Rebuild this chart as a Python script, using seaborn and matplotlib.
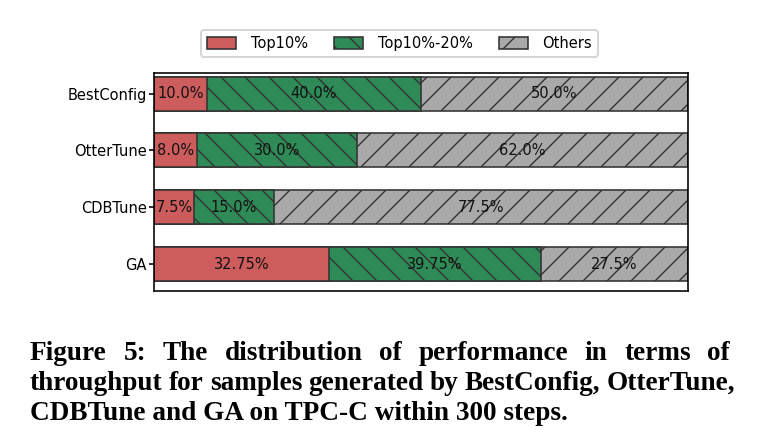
import matplotlib
matplotlib.use("Agg")
import matplotlib.pyplot as plt
from matplotlib.patches import Patch
import seaborn as sns
import pandas as pd

# ---- data ----
tuners = ["BestConfig", "OtterTune", "CDBTune", "GA"]
top10 = [10.0, 8.0, 7.5, 32.75]
top10_20 = [40.0, 30.0, 15.0, 39.75]
others = [50.0, 62.0, 77.5, 27.5]
series_names = ["Top10%", "Top10%-20%", "Others"]
caption_lines = [
    "Figure 5: The distribution of performance in terms of",
    "throughput for samples generated by BestConfig, OtterTune,",
    "CDBTune and GA on TPC-C within 300 steps.",
]

plt.rcParams['font.family'] = ['DejaVu Sans']
plt.rcParams['hatch.linewidth'] = 0.7

W, H, DPI = 761, 437, 144
fig = plt.figure(figsize=(W / DPI, H / DPI), dpi=DPI)
ax = fig.add_axes([154 / W, 1 - 291 / H, (687.5 - 154) / W, (291 - 73) / H])

df = pd.DataFrame({"tuner": tuners, "top10": top10,
                   "top10_20": top10_20, "others": others})
df["c1"] = df["top10"]
df["c2"] = df["top10"] + df["top10_20"]
df["c3"] = df["c2"] + df["others"]

colors = ["#cd5c5c", "#2e8b57", "#a9a9a9"]
hatches = ["", "\\\\", "//"]
edge = "#333333"
for col, color, hatch in [("c3", colors[2], hatches[2]),
                          ("c2", colors[1], hatches[1]),
                          ("c1", colors[0], hatches[0])]:
    sns.barplot(data=df, x=col, y="tuner", orient="h", color=color,
                width=0.6, edgecolor=edge, linewidth=0.8, hatch=hatch,
                saturation=1, errorbar=None, ax=ax)

FS = 7.3
for i in range(len(tuners)):
    start = 0.0
    for v in (top10[i], top10_20[i], others[i]):
        ax.text(start + v / 2, i, f"{v}%", ha="center", va="center",
                fontsize=FS, color="#111111")
        start += v

ax.set_xlim(0, 100)
ax.set_ylim(3.475, -0.364)
ax.set_xticks([])
ax.set_xlabel("")
ax.set_ylabel("")
ax.tick_params(axis="y", length=2.5, pad=1.2, labelsize=FS)
for s in ax.spines.values():
    s.set_linewidth(0.8)
    s.set_color("black")

handles = [Patch(facecolor=c, edgecolor=edge, hatch=h, linewidth=0.8)
           for c, h in zip(colors, hatches)]
fig.legend(handles, series_names, loc="center", ncol=3,
           bbox_to_anchor=(399.5 / W, 1 - 43.5 / H), fontsize=FS,
           frameon=True, handlelength=2.0, handleheight=0.85,
           handletextpad=1.0, columnspacing=1.8, borderpad=0.4)

# ---- caption (justified like the paper) ----
renderer = fig.canvas.get_renderer()
cap_font = dict(family="Liberation Serif", weight="bold")


def width_px(s, size):
    t = fig.text(0, 0, s, fontsize=size, **cap_font)
    w = t.get_window_extent(renderer).width
    t.remove()
    return w


ref = 10.0
size = ref * 538.0 / width_px(caption_lines[2], ref)
left = 30.0
rights = [730.0, 735.0, None]
baselines = [360.0, 390.0, 420.0]
for line, right, base in zip(caption_lines, rights, baselines):
    if right is None:
        fig.text(left / W, 1 - base / H, line, fontsize=size, ha="left",
                 va="baseline", color="black", **cap_font)
        continue
    words = line.split()
    ws = [width_px(w, size) for w in words]
    gap = (right - left - sum(ws)) / (len(words) - 1)
    x = left
    for w, wd in zip(words, ws):
        fig.text(x / W, 1 - base / H, w, fontsize=size, ha="left",
                 va="baseline", color="black", **cap_font)
        x += wd + gap

fig.savefig("out.png", dpi=DPI)
